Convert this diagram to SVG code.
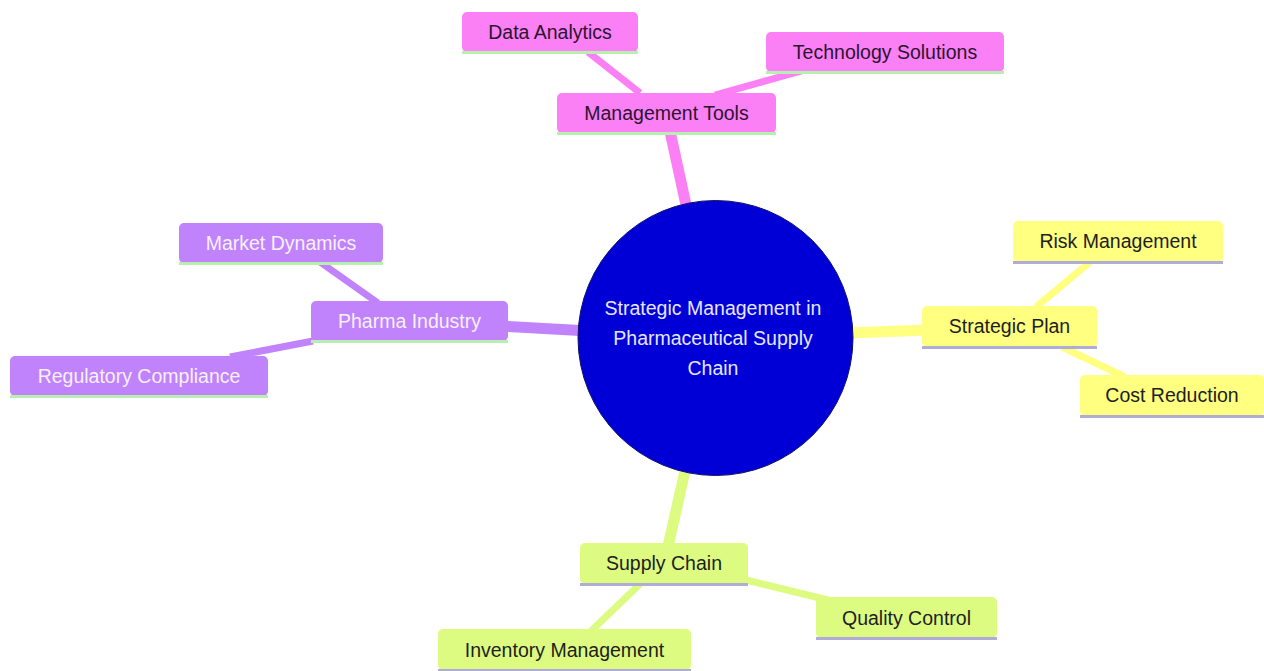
<svg xmlns="http://www.w3.org/2000/svg" width="1264" height="671" viewBox="0 0 1264 671">
<style>
text{font-family:"Liberation Sans",Arial,sans-serif;font-size:19.5px;text-anchor:middle;dominant-baseline:central}
.pk rect.b{fill:#fb80f6}.pk text{fill:#2b1430}
.pu rect.b{fill:#c183fb}.pu text{fill:#f6f0fb}
.ye rect.b{fill:#ffff80}.ye text{fill:#1e1e1e}
.gr rect.b{fill:#dcfb80}.gr text{fill:#1e1e1e}
.lg{fill:#b8eeb0}.lv{fill:#b0acd8}
.e{stroke-linecap:butt;fill:none}
</style>
<rect width="1264" height="671" fill="#ffffff"/>
<g id="connectors">
<line class="e" x1="715" y1="338" x2="666" y2="113" stroke="#fb80f6" stroke-width="11"/>
<line class="e" x1="640" y1="93" x2="588" y2="52" stroke="#fb80f6" stroke-width="7"/>
<line class="e" x1="715" y1="95" x2="805" y2="70" stroke="#fb80f6" stroke-width="7"/>
<line class="e" x1="715" y1="338" x2="409" y2="321" stroke="#c183fb" stroke-width="11"/>
<line class="e" x1="378" y1="303" x2="320" y2="262" stroke="#c183fb" stroke-width="7"/>
<line class="e" x1="313" y1="341" x2="230" y2="357" stroke="#c183fb" stroke-width="7"/>
<line class="e" x1="715" y1="338" x2="1009" y2="327" stroke="#ffff80" stroke-width="11"/>
<line class="e" x1="1036" y1="307" x2="1090" y2="262" stroke="#ffff80" stroke-width="7"/>
<line class="e" x1="1062" y1="347" x2="1125" y2="377" stroke="#ffff80" stroke-width="7"/>
<line class="e" x1="715" y1="338" x2="664" y2="564" stroke="#dcfb80" stroke-width="11"/>
<line class="e" x1="746" y1="580" x2="832" y2="601" stroke="#dcfb80" stroke-width="7"/>
<line class="e" x1="640" y1="584" x2="590" y2="632" stroke="#dcfb80" stroke-width="7"/>
</g>
<g id="root">
<circle cx="715.5" cy="338" r="137.5" fill="#0000d6" stroke="#10106a" stroke-width="1"/>
<text x="713" y="308" fill="#e6e6ff">Strategic Management in</text>
<text x="713" y="338" fill="#e6e6ff">Pharmaceutical Supply</text>
<text x="713" y="368" fill="#e6e6ff">Chain</text>
</g>
<g id="management-tools" class="pk"><rect class="b" x="557" y="93" width="219" height="40" rx="5"/><rect class="lg" x="557" y="132" width="219" height="3"/><text x="666.5" y="113">Management Tools</text></g>
<g id="data-analytics" class="pk"><rect class="b" x="462" y="12" width="176" height="40" rx="5"/><rect class="lg" x="462" y="51" width="176" height="3"/><text x="550" y="32">Data Analytics</text></g>
<g id="technology-solutions" class="pk"><rect class="b" x="766" y="32" width="238" height="40" rx="5"/><rect class="lg" x="766" y="71" width="238" height="3"/><text x="885" y="52">Technology Solutions</text></g>
<g id="pharma-industry" class="pu"><rect class="b" x="311" y="301" width="197" height="40" rx="5"/><rect class="lg" x="311" y="340" width="197" height="3"/><text x="409.5" y="321">Pharma Industry</text></g>
<g id="market-dynamics" class="pu"><rect class="b" x="179" y="223" width="204" height="40" rx="5"/><rect class="lg" x="179" y="262" width="204" height="3"/><text x="281" y="243">Market Dynamics</text></g>
<g id="regulatory-compliance" class="pu"><rect class="b" x="10" y="356" width="258" height="40" rx="5"/><rect class="lg" x="10" y="395" width="258" height="3"/><text x="139" y="376">Regulatory Compliance</text></g>
<g id="strategic-plan" class="ye"><rect class="b" x="922" y="306" width="175" height="41" rx="5"/><rect class="lv" x="922" y="346" width="175" height="3"/><text x="1009.5" y="326">Strategic Plan</text></g>
<g id="risk-management" class="ye"><rect class="b" x="1013" y="221" width="210" height="41" rx="5"/><rect class="lv" x="1013" y="261" width="210" height="3"/><text x="1118" y="241">Risk Management</text></g>
<g id="cost-reduction" class="ye"><rect class="b" x="1080" y="375" width="184" height="41" rx="5"/><rect class="lv" x="1080" y="415" width="184" height="3"/><text x="1172" y="395">Cost Reduction</text></g>
<g id="supply-chain" class="gr"><rect class="b" x="580" y="543" width="168" height="41" rx="5"/><rect class="lv" x="580" y="583" width="168" height="3"/><text x="664" y="563">Supply Chain</text></g>
<g id="quality-control" class="gr"><rect class="b" x="816" y="597" width="181" height="41" rx="5"/><rect class="lv" x="816" y="637" width="181" height="3"/><text x="906.5" y="618">Quality Control</text></g>
<g id="inventory-management" class="gr"><rect class="b" x="438" y="629" width="253" height="41" rx="5"/><rect class="lv" x="438" y="669" width="253" height="3"/><text x="564.5" y="650">Inventory Management</text></g>
</svg>
